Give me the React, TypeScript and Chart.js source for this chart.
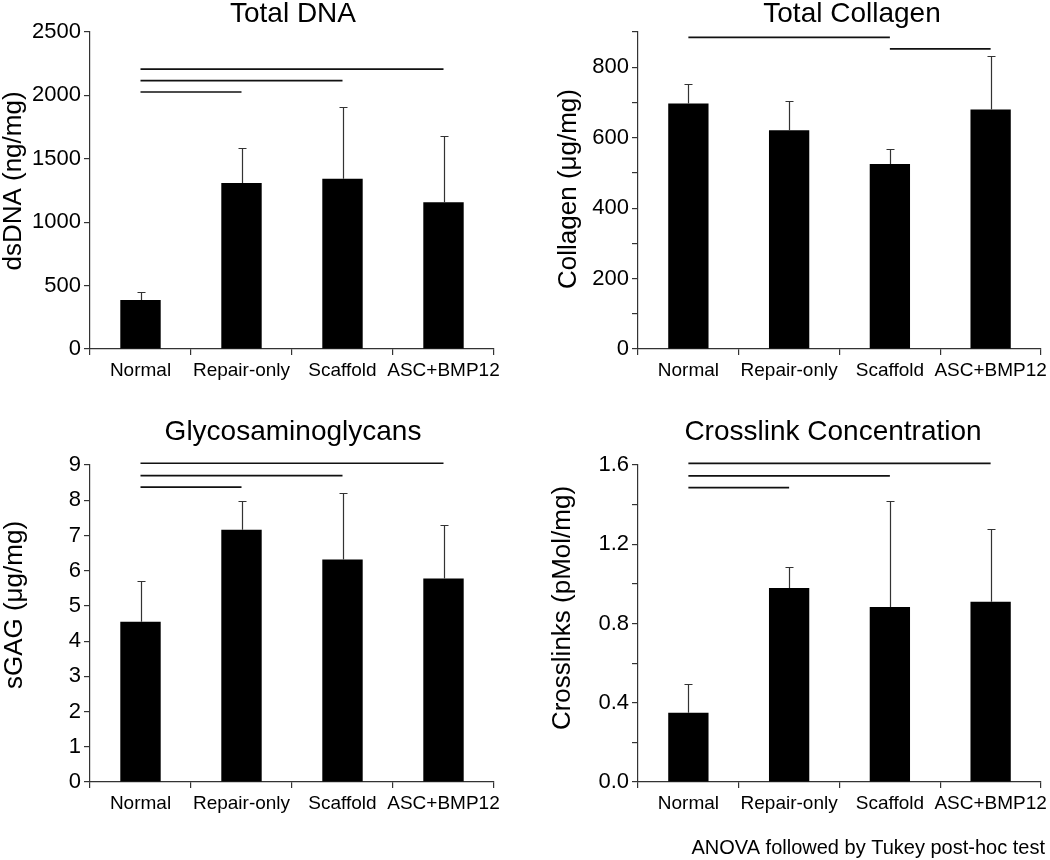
import React, { useEffect, useRef } from 'react';
import { Chart, registerables } from 'chart.js';

Chart.register(...registerables);

const FONT = '"Liberation Sans", Arial, Helvetica, sans-serif';
Chart.defaults.font.family = FONT;

// ---------- data ----------
const categories = ['Normal', 'Repair-only', 'Scaffold', 'ASC+BMP12'];

const dnaMean = [386, 1309, 1343, 1157];
const dnaSD = [64, 279, 568, 525];
const dnaSig: [number, number, number][] = [[0, 1, 2027], [0, 2, 2117], [0, 3, 2208]];

const collagenMean = [697, 621, 525, 680];
const collagenSD = [55, 83, 43, 153];
const collagenSig: [number, number, number][] = [[0, 2, 885], [2, 3, 852]];

const gagMean = [4.55, 7.16, 6.32, 5.78];
const gagSD = [1.17, 0.81, 1.88, 1.51];
const gagSig: [number, number, number][] = [[0, 1, 8.37], [0, 2, 8.7], [0, 3, 9.05]];

const xlinkMean = [0.349, 0.979, 0.883, 0.91];
const xlinkSD = [0.148, 0.106, 0.537, 0.368];
const xlinkSig: [number, number, number][] = [[0, 1, 1.486], [0, 2, 1.545], [0, 3, 1.608]];

const footnote = 'ANOVA followed by Tukey post-hoc test';

// ---------- panels ----------
type Panel = {
  title: string;
  yLabel: string;
  mean: number[];
  sd: number[];
  sig: [number, number, number][];
  max: number;
  step: number;
  labelEvery: number;
  decimals: number;
  left: number; top: number; w: number; h: number;
  area: { l: number; r: number; t: number; b: number };
  titleX: number; titleY: number;
  yLabelX: number; yLabelY: number;
  note?: string;
};

const panels: Panel[] = [
  {
    title: 'Total DNA', yLabel: 'dsDNA (ng/mg)', mean: dnaMean, sd: dnaSD, sig: dnaSig,
    max: 2500, step: 500, labelEvery: 1, decimals: 0,
    left: 0, top: 0, w: 525, h: 420, area: { l: 90, r: 494, t: 32, b: 349 },
    titleX: 293, titleY: 22, yLabelX: 14, yLabelY: 181,
  },
  {
    title: 'Total Collagen', yLabel: 'Collagen (\u03bcg/mg)', mean: collagenMean, sd: collagenSD, sig: collagenSig,
    max: 900, step: 100, labelEvery: 2, decimals: 0,
    left: 525, top: 0, w: 525, h: 420, area: { l: 113, r: 516, t: 32, b: 349 },
    titleX: 327, titleY: 22, yLabelX: 44, yLabelY: 189,
  },
  {
    title: 'Glycosaminoglycans', yLabel: 'sGAG (\u03bcg/mg)', mean: gagMean, sd: gagSD, sig: gagSig,
    max: 9, step: 1, labelEvery: 1, decimals: 0,
    left: 0, top: 420, w: 525, h: 440, area: { l: 90, r: 494, t: 45, b: 362 },
    titleX: 293, titleY: 20, yLabelX: 15, yLabelY: 185,
  },
  {
    title: 'Crosslink Concentration', yLabel: 'Crosslinks (pMol/mg)', mean: xlinkMean, sd: xlinkSD, sig: xlinkSig,
    max: 1.6, step: 0.2, labelEvery: 2, decimals: 1,
    left: 525, top: 420, w: 525, h: 440, area: { l: 113, r: 516, t: 45, b: 362 },
    titleX: 308, titleY: 20, yLabelX: 38, yLabelY: 188,
    note: footnote,
  },
];

function makeOverlay(p: Panel) {
  return {
    id: 'overlay',
    afterDatasetsDraw(chart: any) {
      const { ctx } = chart;
      const x = chart.scales.x;
      const y = chart.scales.y;
      const meta = chart.getDatasetMeta(0);
      ctx.save();
      // error bars
      ctx.strokeStyle = '#333';
      ctx.lineWidth = 1.2;
      p.sd.forEach((sd, i) => {
        const cx = Math.round(meta.data[i].x) + 0.5;
        const y0 = y.getPixelForValue(p.mean[i]);
        const y1 = Math.round(y.getPixelForValue(p.mean[i] + sd)) + 0.5;
        ctx.beginPath();
        ctx.moveTo(cx, y0);
        ctx.lineTo(cx, y1);
        ctx.moveTo(cx - 4, y1);
        ctx.lineTo(cx + 4, y1);
        ctx.stroke();
      });
      // significance lines
      ctx.strokeStyle = '#111';
      ctx.lineWidth = 1.7;
      p.sig.forEach(([a, b, v]) => {
        const yy = y.getPixelForValue(v);
        ctx.beginPath();
        ctx.moveTo(x.getPixelForValue(a), yy);
        ctx.lineTo(x.getPixelForValue(b), yy);
        ctx.stroke();
      });
      ctx.restore();
    },
    afterDraw(chart: any) {
      const { ctx } = chart;
      ctx.save();
      ctx.fillStyle = '#000';
      // title
      ctx.font = `28px ${FONT}`;
      ctx.textAlign = 'center';
      ctx.textBaseline = 'alphabetic';
      ctx.fillText(p.title, p.titleX, p.titleY);
      // y label
      ctx.save();
      ctx.translate(p.yLabelX, p.yLabelY);
      ctx.rotate(-Math.PI / 2);
      ctx.font = `26px ${FONT}`;
      ctx.textAlign = 'center';
      ctx.textBaseline = 'middle';
      ctx.fillText(p.yLabel, 0, 0);
      ctx.restore();
      // footnote
      if (p.note) {
        ctx.font = `20px ${FONT}`;
        ctx.textAlign = 'right';
        ctx.textBaseline = 'alphabetic';
        ctx.fillText(p.note, 520, 434);
      }
      ctx.restore();
    },
  };
}

function buildConfig(p: Panel): any {
  const axisColor = '#333';
  return {
    type: 'bar',
    data: {
      labels: categories,
      datasets: [
        {
          data: p.mean,
          backgroundColor: '#000',
          borderColor: '#000',
          borderWidth: 0,
          categoryPercentage: 0.4,
          barPercentage: 1,
        },
      ],
    },
    options: {
      animation: false,
      responsive: false,
      maintainAspectRatio: false,
      layout: { padding: { top: p.area.t, right: p.w - p.area.r, left: 0, bottom: 0 } },
      plugins: {
        legend: { display: false },
        tooltip: { enabled: false },
        title: { display: false },
      },
      scales: {
        x: {
          offset: true,
          grid: { offset: true, drawOnChartArea: false, drawTicks: true, tickLength: 6, color: axisColor, lineWidth: 1.2 },
          border: { display: true, color: axisColor, width: 1.2 },
          ticks: { color: '#000', font: { size: 19, family: FONT }, padding: 4, maxRotation: 0, minRotation: 0, autoSkip: false },
          afterFit: (s: any) => {
            s.height = p.h - p.area.b;
            s.paddingLeft = 0; s.paddingRight = 0; s.paddingTop = 0; s.paddingBottom = 0;
          },
        },
        y: {
          min: 0,
          max: p.max,
          grid: { drawOnChartArea: false, drawTicks: true, tickLength: 6, color: axisColor, lineWidth: 1.2 },
          border: { display: true, color: axisColor, width: 1.2 },
          ticks: {
            stepSize: p.step,
            color: '#000',
            font: { size: 22, family: FONT },
            padding: 3,
            autoSkip: false,
            callback: (v: number, i: number) => (i % p.labelEvery === 0 ? Number(v).toFixed(p.decimals) : ''),
          },
          afterFit: (s: any) => {
            s.width = p.area.l;
            s.paddingLeft = 0; s.paddingRight = 0; s.paddingTop = 0; s.paddingBottom = 0;
          },
        },
      },
    },
    plugins: [makeOverlay(p)],
  };
}

function PanelChart({ p }: { p: Panel }) {
  const ref = useRef<HTMLCanvasElement>(null);
  useEffect(() => {
    const chart = new Chart(ref.current as HTMLCanvasElement, buildConfig(p));
    return () => chart.destroy();
  }, [p]);
  return (
    <canvas
      ref={ref}
      width={p.w}
      height={p.h}
      style={{ position: 'absolute', left: p.left, top: p.top, width: p.w, height: p.h }}
    />
  );
}

export default function App() {
  return (
    <div style={{ position: 'absolute', left: 0, top: 0, width: 1050, height: 860, background: '#fff', overflow: 'hidden' }}>
      {panels.map((p) => (
        <PanelChart key={p.title} p={p} />
      ))}
    </div>
  );
}
